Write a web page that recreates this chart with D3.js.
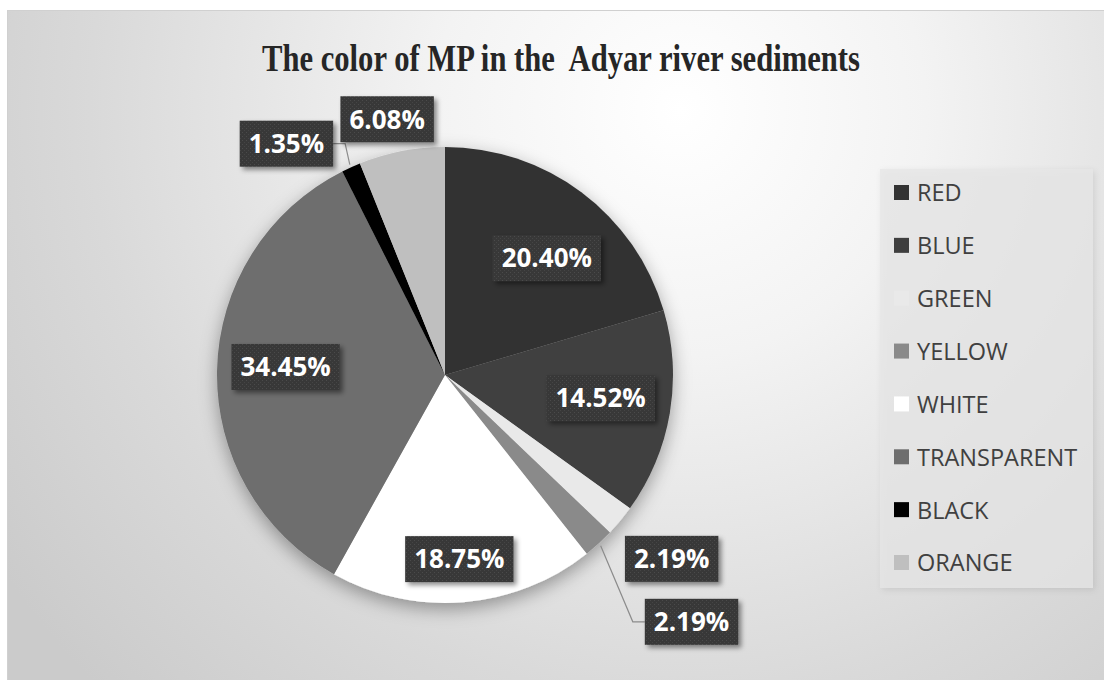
<!DOCTYPE html>
<html>
<head>
<meta charset="utf-8">
<script src="https://cdn.jsdelivr.net/npm/d3@7"></script>
<style>
  body { margin: 0; background: #fff; }
  svg { display: block; }
</style>
</head>
<body>
<svg width="1104" height="680"></svg>
<script>
// data
var categories = ["RED", "BLUE", "GREEN", "YELLOW", "WHITE", "TRANSPARENT", "BLACK", "ORANGE"];
var percents = [20.40, 14.52, 2.19, 2.19, 18.75, 34.45, 1.35, 6.08];
var sliceColors = ["#333333", "#3f3f3f", "#e9e9e9", "#8a8a8a", "#ffffff", "#6e6e6e", "#000000", "#bfbfbf"];
var title = "The color of MP in the  Adyar river sediments";

// label layout: radius factor, angle nudge (deg), leader line yes/no
var labelRadius = [0.68, 0.69, 1.28, 1.53, 0.81, 0.70, 1.23, 1.15];
var labelNudge = [4.3, -1.2, -0.7, -2.6, 0.2, 1.7, -10.1, -1.8];
var hasLeader = [false, false, false, true, false, false, true, false];

var svg = d3.select("svg"),
    width = 1104,
    height = 680,
    cx = 445, cy = 375, radius = 228;

var defs = svg.append("defs");

var bg = defs.append("radialGradient")
    .attr("id", "bg")
    .attr("gradientUnits", "userSpaceOnUse")
    .attr("cx", 680).attr("cy", 110).attr("r", 820);
bg.append("stop").attr("offset", "0").attr("stop-color", "#ffffff");
bg.append("stop").attr("offset", "0.3").attr("stop-color", "#f3f3f3");
bg.append("stop").attr("offset", "0.72").attr("stop-color", "#d9d9d9");
bg.append("stop").attr("offset", "1").attr("stop-color", "#cbcbcb");

var pieShadow = defs.append("filter").attr("id", "pieShadow")
    .attr("x", "-20%").attr("y", "-20%").attr("width", "140%").attr("height", "140%");
pieShadow.append("feDropShadow")
    .attr("dx", 0).attr("dy", 6).attr("stdDeviation", 9)
    .attr("flood-color", "#000").attr("flood-opacity", 0.35);

var boxShadow = defs.append("filter").attr("id", "boxShadow")
    .attr("x", "-20%").attr("y", "-30%").attr("width", "150%").attr("height", "170%");
boxShadow.append("feDropShadow")
    .attr("dx", 3).attr("dy", 3).attr("stdDeviation", 2.5)
    .attr("flood-color", "#000").attr("flood-opacity", 0.45);

var legShadow = defs.append("filter").attr("id", "legShadow")
    .attr("x", "-10%").attr("y", "-10%").attr("width", "120%").attr("height", "120%");
legShadow.append("feDropShadow")
    .attr("dx", 2).attr("dy", 2).attr("stdDeviation", 3)
    .attr("flood-color", "#000").attr("flood-opacity", 0.12);

// dotted texture of the data label boxes
var dots = defs.append("pattern").attr("id", "dots")
    .attr("patternUnits", "userSpaceOnUse").attr("width", 4).attr("height", 4);
dots.append("rect").attr("width", 4).attr("height", 4).attr("fill", "#383838");
dots.append("rect").attr("x", 1).attr("y", 1).attr("width", 1).attr("height", 1).attr("fill", "#4c4c4c");
dots.append("rect").attr("x", 3).attr("y", 3).attr("width", 1).attr("height", 1).attr("fill", "#454545");

// chart area
svg.append("rect")
    .attr("x", 7.5).attr("y", 10.5)
    .attr("width", width).attr("height", height)
    .attr("fill", "url(#bg)")
    .attr("stroke", "#d0d0d0");

svg.append("text")
    .attr("x", 561).attr("y", 71)
    .attr("text-anchor", "middle")
    .attr("textLength", 598)
    .attr("lengthAdjust", "spacingAndGlyphs")
    .style("white-space", "pre")
    .style("font-family", "'Liberation Serif', 'Times New Roman', serif")
    .style("font-weight", "bold")
    .style("font-size", "38px")
    .style("fill", "#262626")
    .text(title);

var pie = d3.pie().sort(null).value(function(d) { return d; });
var arcs = pie(percents);

var arc = d3.arc().innerRadius(0).outerRadius(radius);

var g = svg.append("g").attr("transform", "translate(" + cx + "," + cy + ")");

g.append("g").attr("filter", "url(#pieShadow)")
  .selectAll("path")
  .data(arcs)
  .join("path")
    .attr("d", arc)
    .attr("fill", function(d, i) { return sliceColors[i]; });

function labelPoint(d, i) {
    var a = (d.startAngle + d.endAngle) / 2 + labelNudge[i] * Math.PI / 180;
    var r = radius * labelRadius[i];
    return [r * Math.sin(a), -r * Math.cos(a)];
}

var labels = g.selectAll(".lbl")
    .data(arcs)
    .join("g")
    .attr("class", "lbl");

labels.each(function(d, i) {
    var p = labelPoint(d, i);
    var lg = d3.select(this);
    var txt = lg.append("text")
        .attr("x", p[0]).attr("y", p[1])
        .attr("text-anchor", "middle")
        .attr("dy", "0.36em")
        .style("font-family", "'Open Sans', 'Noto Sans', sans-serif")
        .style("font-weight", "bold")
        .style("font-size", "26px")
        .style("fill", "#ffffff")
        .text(d3.format(".2f")(percents[i]) + "%");
    var bb = txt.node().getBBox();
    var bw = bb.width + 18, bh = 46;
    lg.insert("rect", "text")
        .attr("x", p[0] - bw / 2).attr("y", p[1] - bh / 2)
        .attr("width", bw).attr("height", bh)
        .attr("fill", "url(#dots)")
        .attr("filter", "url(#boxShadow)");

    if (hasLeader[i]) {
        var a = (d.startAngle + d.endAngle) / 2;
        var start = [(radius + 3) * Math.sin(a), -(radius + 3) * Math.cos(a)];
        var side = start[0] < p[0] ? -1 : 1;
        var edgeX = p[0] + side * bw / 2;
        var elbowX = edgeX + side * 12;
        lg.insert("path", "rect")
            .attr("d", d3.line()([start, [elbowX, p[1]], [edgeX, p[1]]]))
            .attr("fill", "none")
            .attr("stroke", "#8c8c8c")
            .attr("stroke-width", 1.2);
    }
});

// legend
var legend = svg.append("g");
legend.append("rect")
    .attr("x", 880).attr("y", 169)
    .attr("width", 213).attr("height", 419)
    .attr("fill", "#e6e6e6")
    .attr("fill-opacity", 0.75)
    .attr("filter", "url(#legShadow)");

var ly = d3.scalePoint()
    .domain(categories)
    .range([193, 563]);

var items = legend.selectAll(".item")
    .data(categories)
    .join("g")
    .attr("class", "item")
    .attr("transform", function(d) { return "translate(894," + ly(d) + ")"; });

items.append("rect")
    .attr("x", 0).attr("y", -8)
    .attr("width", 15).attr("height", 15)
    .attr("fill", function(d, i) { return sliceColors[i]; });

items.append("text")
    .attr("x", 23).attr("y", 0)
    .attr("dy", "0.36em")
    .style("font-family", "'Open Sans', 'Noto Sans', sans-serif")
    .style("font-size", "23.5px")
    .style("fill", "#404040")
    .text(function(d) { return d; });
</script>
</body>
</html>
